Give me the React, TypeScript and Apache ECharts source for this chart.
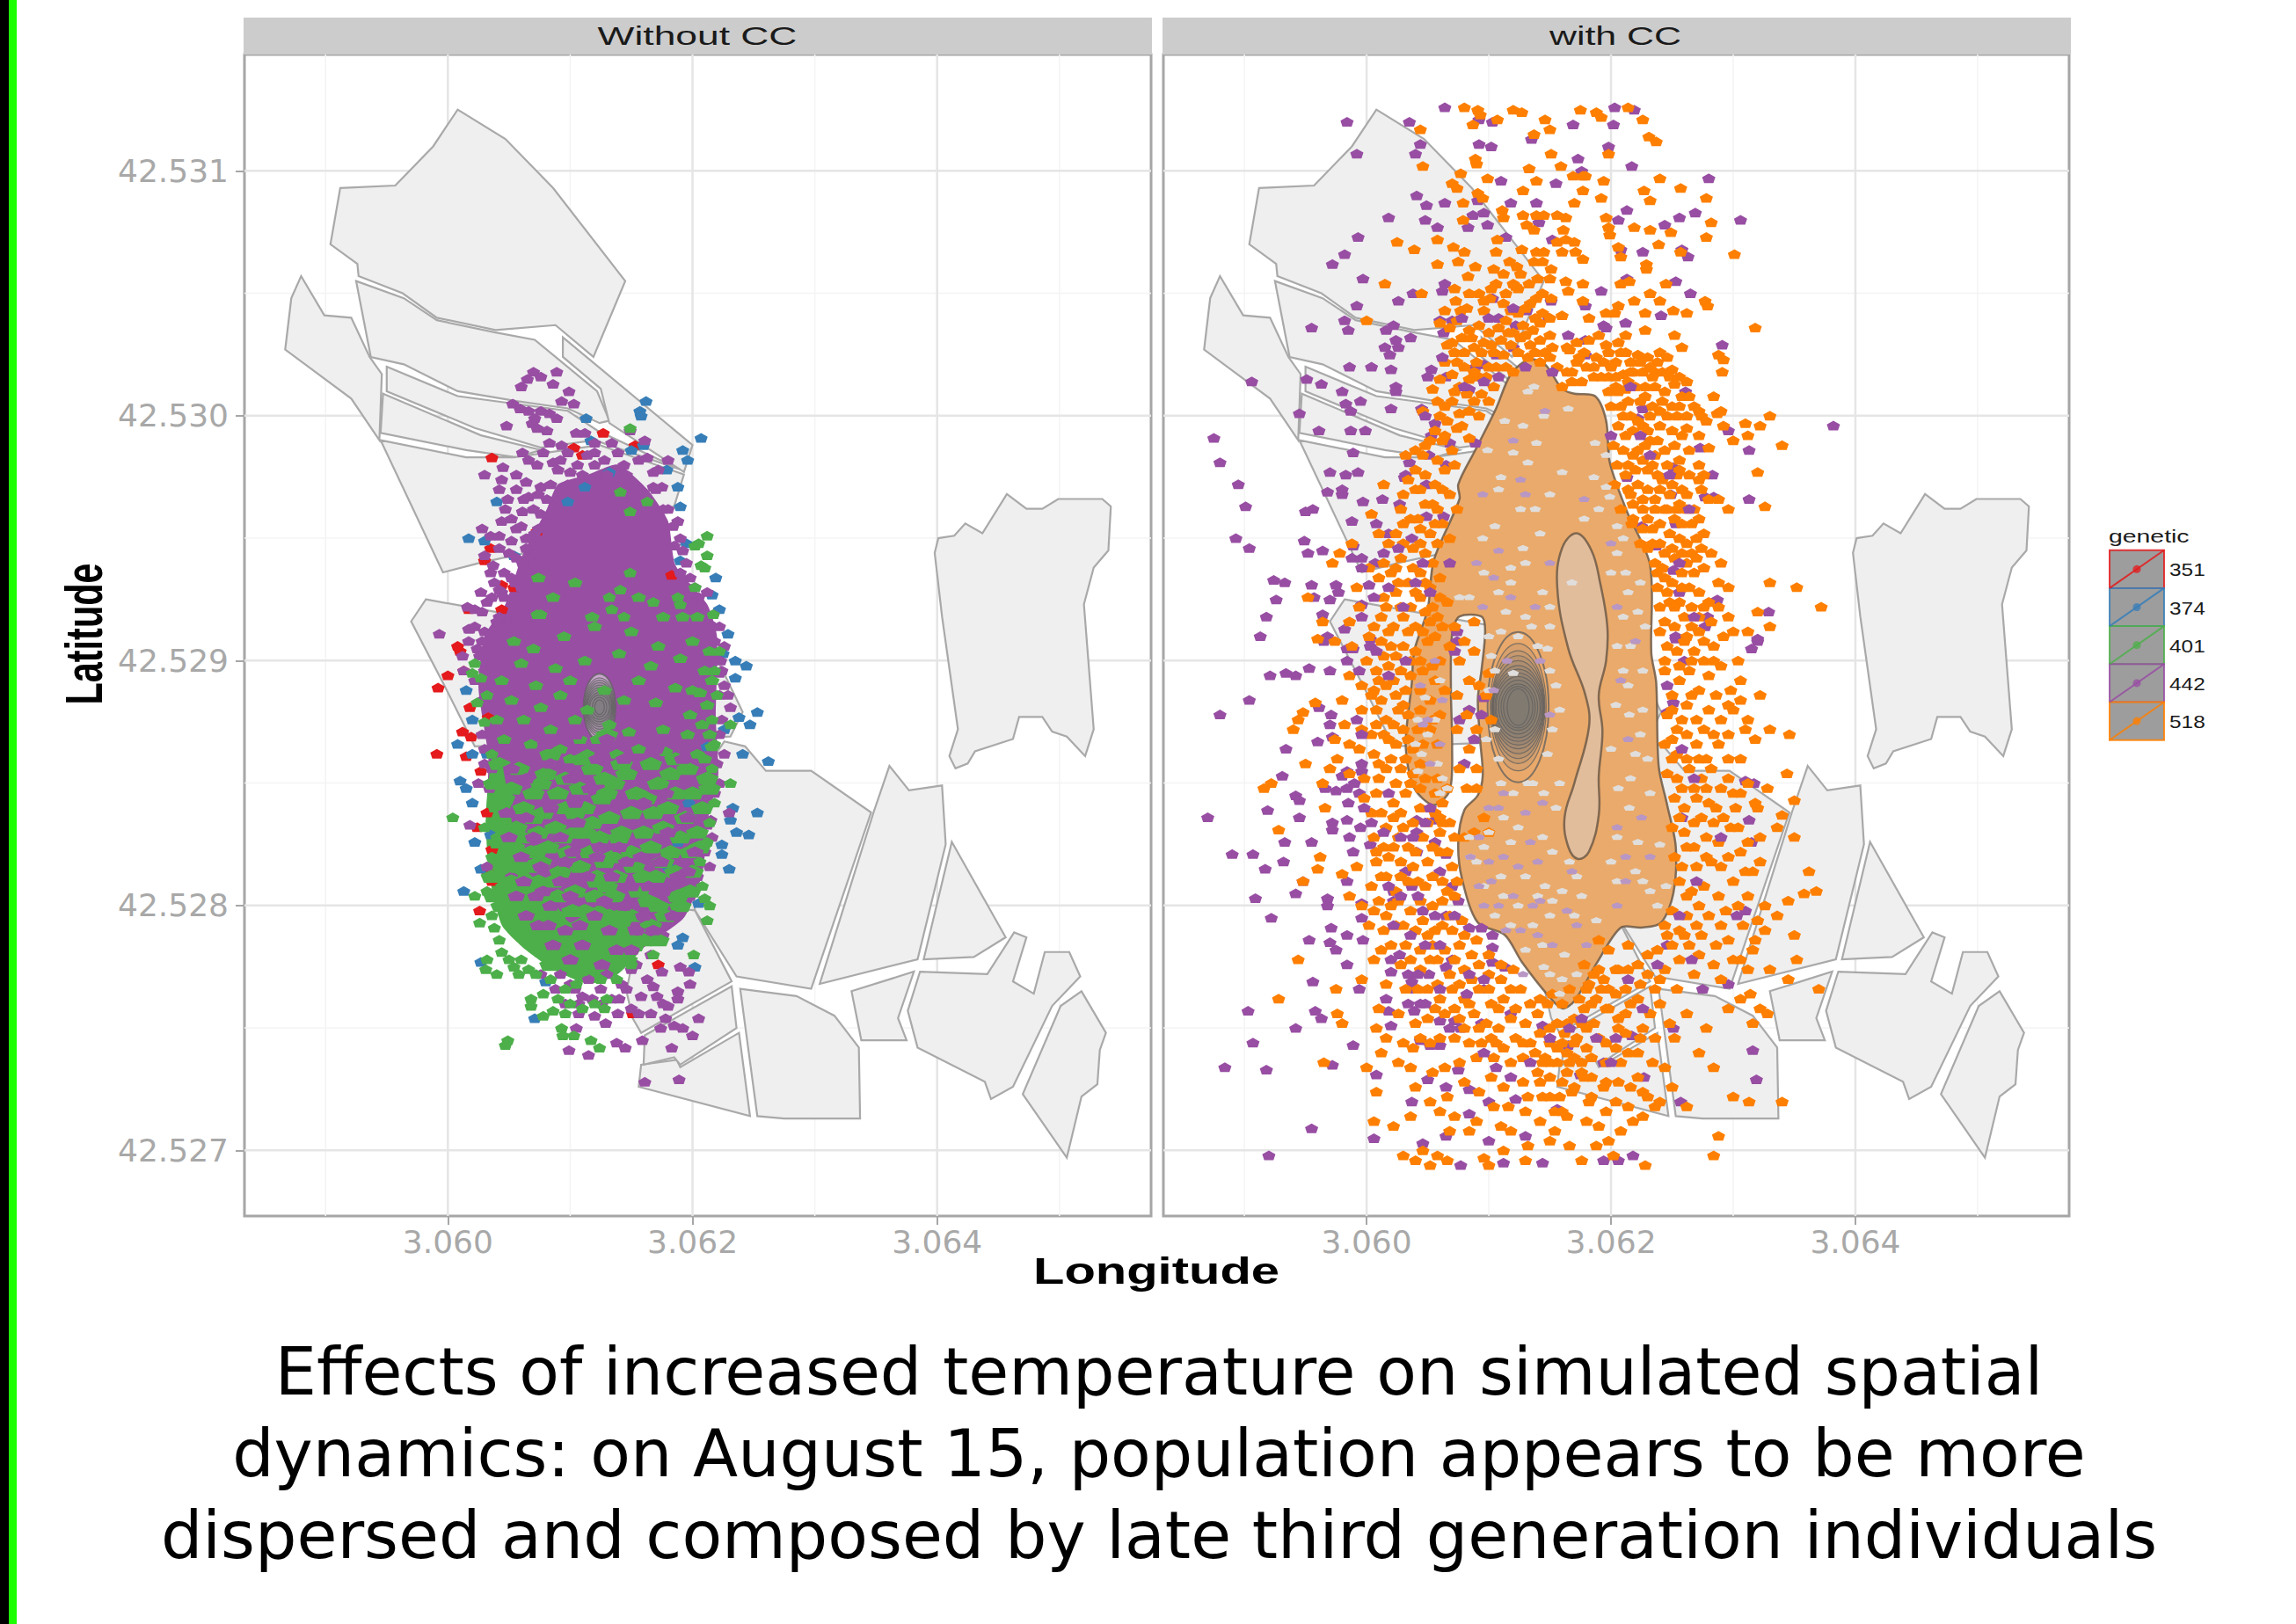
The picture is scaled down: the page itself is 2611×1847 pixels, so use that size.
import React, { useEffect, useRef } from "react";
import * as echarts from "echarts";

const LON0 = 3.06, LAT0 = 42.527, UNIT = 1e-5; // all lists below are [lon,lat] offsets in 1e-5 degrees, flat pairs
const LON_MIN = 3.058337, LON_MAX = 3.065749, LAT_MIN = 42.526732, LAT_MAX = 42.531475;
const lonTicks = [3.06, 3.062, 3.064];
const lonMinor = [3.059, 3.061, 3.063, 3.065];
const latTicks = [42.527, 42.528, 42.529, 42.53, 42.531];
const latMinor = [42.5275, 42.5285, 42.5295, 42.5305];
const panels = ["Without CC", "with CC"];
const geneticLabels = ["351", "374", "401", "442", "518"];
const geneticColors = ["#E41A1C", "#377EB8", "#4DAF4A", "#984EA3", "#FF7F00"];
const captionLines = [
  "Effects of increased temperature on simulated spatial",
  "dynamics: on August 15, population appears to be more",
  "dispersed and composed by late third generation individuals",
];

const fieldA = [8,425,47,413,86,393,145,355,119,324,88,337,39,335,-9,340,-37,350,-73,357,-74,362,-96,370,-88,393,-43,394,-12,410];
const fieldB = [-120,357,-101,341,-79,340,-64,324,-54,317,-56,290,-79,307,-133,327,-128,348];
const fieldC = [-75,355,-36,348,-9,339,39,334,71,331,93,322,122,310,132,298,124,297,98,303,56,306,8,310,-36,321,-63,324];
const fieldD = [94,332,200,288,193,277,132,297,125,311,94,324];
const fieldE = [-50,320,8,308,98,302,122,294,190,278,120,290,76,287,22,295,-50,310];
const fieldF = [-53,309,27,292,76,286,56,283,15,286,-55,293];
const fieldG = [-55,290,15,283,54,283,124,288,193,276,185,263,120,250,27,240,-4,236];
const fieldH = [-18,225,60,218,217,204,241,179,231,169,22,165,-2,189,-30,216];
const fieldI = [226,167,243,165,260,155,297,155,346,138,297,66,236,71,202,98,190,140];
const fieldJ = [361,157,377,147,404,149,407,125,384,78,304,68,348,138];
const fieldK = [412,126,456,87,430,79,389,78];
const fieldL = [330,65,381,73,368,54,375,45,338,45];
const fieldM = [386,73,441,72,463,89,473,87,462,69,479,64,488,81,508,81,517,71,494,59,462,26,444,21,439,28,384,42,376,57];
const fieldN = [518,65,538,48,533,41,531,27,518,22,506,-3,470,23,501,59];
const fieldO = [239,66,285,63,316,55,336,42,337,13,275,13,253,14];
const fieldP = [238,48,247,14,156,26,158,35,187,37,190,34];
const fieldQ = [232,67,236,50,190,35,185,38,160,35,161,47];
const fieldR = [202,98,232,69,158,48,151,54,146,65,160,100];
const fieldS = [457,268,473,262,486,262,499,266,535,266,542,263,540,245,528,238,520,223,528,172,521,161,506,169,494,171,486,177,467,177,462,168,431,163,425,158,415,156,410,161,417,172,404,218,398,244,401,250,414,251,423,256,437,252];
const fields = [fieldA,fieldB,fieldC,fieldD,fieldE,fieldF,fieldG,fieldH,fieldI,fieldJ,fieldK,fieldL,fieldM,fieldN,fieldO,fieldP,fieldQ,fieldR,fieldS];

// ---- Without CC
const massPurple = [115,276,139,280,163,270,180,257,186,239,212,223,220,210,219,177,221,153,213,136,208,113,193,95,163,84,139,74,115,70,90,76,66,85,46,93,38,111,32,136,33,161,25,189,30,210,47,223,61,243,81,262,90,272];
const massGreen = [36,160,44,158,52,135,58,118,81,106,100,93,124,100,149,90,160,84,139,72,115,68,86,74,61,83,44,92,34,112,31,136];
const redA = [36,283,127,293,153,288,103,287,110,284,73,253,35,246,30,241,44,231,54,230,17,221,44,221,183,235,8,206,10,204,0,194,-8,189,13,196,18,181,33,177,12,171,19,169,-9,162,15,161,27,155,32,138,24,132,36,123,32,114,36,110,26,98,172,76,151,56];
const blueA = [162,306,157,302,158,300,113,299,207,291,192,286,196,282,117,290,160,288,150,286,179,278,188,271,40,265,190,263,17,250,30,249,54,243,195,248,190,241,219,234,216,227,222,221,112,271,98,265,132,277,229,211,235,200,244,198,235,193,253,179,238,177,247,174,226,172,241,162,262,159,8,166,20,162,32,162,10,151,15,148,20,142,22,126,35,129,27,115,13,106,35,104,233,140,253,138,231,135,236,130,246,129,224,125,224,121,230,115,205,101,192,87,188,84,202,75,27,77,80,69,71,54,20,176,15,188,197,142,188,126,180,116,225,203,215,150,212,165];
const purpleA = [89,318,70,318,76,316,65,315,60,312,86,313,99,310,93,306,103,305,53,305,59,303,66,302,76,302,83,301,71,299,89,299,69,297,48,296,81,294,73,295,105,293,112,293,149,294,83,289,93,288,120,289,134,289,78,285,61,285,98,285,120,285,139,285,161,290,163,283,180,282,66,282,73,280,86,281,45,279,30,276,56,276,64,273,44,274,90,278,100,277,120,280,144,280,168,277,42,270,49,266,76,271,81,266,66,267,168,271,175,271,47,262,61,261,76,260,188,257,180,262,44,257,56,254,28,254,35,251,42,251,71,252,30,243,37,239,42,246,52,249,61,240,192,245,185,247,35,236,27,228,32,224,22,221,16,222,42,229,202,230,212,228,217,219,222,214,18,213,42,218,-7,211,17,213,17,208,12,202,13,196,217,202,222,195,229,186,231,181,25,150,18,133,32,116,212,133,230,138,214,116,175,73,190,75,197,73,198,68,163,70,168,67,171,63,158,63,188,65,188,62,180,59,205,54,178,54,185,51,192,50,174,50,200,47,159,45,183,42,145,42,138,44,115,39,99,41,161,28,189,29,139,56,120,55,129,52,107,56,107,60,105,50,134,62,110,63,100,68,125,66,150,74,115,70,52,112,30,212,24,205,34,196,28,170,30,158,34,148,223,200,226,190,222,170,220,158,218,146,215,135,44,228,55,232,70,240,64,250,36,206,205,226,198,234,195,240,
56,270,62,266,70,262,74,268,84,272,92,282,98,272,106,280,110,276,114,284,128,282,130,276,146,276,152,272,156,282,170,270,176,262,184,255,190,250,172,278,52,258,60,255,66,250,74,254,82,256,86,250,50,244,56,242,64,246,72,244,78,238,46,236,52,234,60,230,66,236,72,228,38,232,46,226,54,224,62,222,68,218,28,220,36,226,40,216,46,212,56,216,22,214,28,208,36,210,26,202,30,196,38,200,22,192,28,184,34,182,38,172,30,164,36,156,190,236,196,230,204,222,214,215,218,208,226,206,224,196,222,186,224,176,226,162,222,150,216,128,210,122,204,112,198,104,186,98,176,88,166,80,154,76,142,68,126,60,118,62,96,60,88,66,76,72,92,72,104,66,130,72,146,66,156,56,166,56,176,60,150,58,140,62];
const greenEdge = [49,45,47,43,93,50,94,47,103,47,117,45,124,42,86,57,78,55,78,64,68,62,68,59,40,72,31,74,32,78,44,81,54,75,168,80,201,80,26,93,38,91,4,136,22,104,212,94,210,103,231,150,231,174,212,251,205,248,202,247,212,243,207,239,210,238,202,230,217,219,149,295,22,199,20,195,27,193,32,186,24,183,30,175,141,269,163,265,149,261,149,236,141,229,132,226,188,226,76,219,190,223,144,218,134,221,168,224,73,219,84,70,96,66,105,68,90,62,100,60,110,58,125,70,130,62,138,70,150,76,60,78,66,74,72,72,36,120,40,128,30,132,38,140,34,150,36,162,120,60,128,58,96,56,58,72,50,78,42,86,36,96,32,106,214,100,208,108,206,118,212,126,214,134,218,142,216,156,218,166,216,176,220,186,218,196,222,204];
const greenMott = [54,208,70,205,95,210,120,214,150,212,172,206,200,208,214,204,60,199,88,197,112,200,140,203,166,198,190,201,210,196,44,192,72,190,100,192,128,188,156,192,186,189,206,187,216,192,52,184,76,181,92,186,114,180,144,184,170,183,198,178,212,182,40,176,62,176,84,172,104,176,108,168,132,174,148,171,176,172,196,170,214,170,46,168,68,166,92,164,100,160,122,168,114,162,138,162,156,164,178,163,204,162,216,165,118,218,156,226,86,226,104,232,74,234,192,218,176,218,204,218,200,188,208,174,210,160];
const greenLow = [42,158,58,156,80,154,96,152,118,156,128,152,146,154,166,158,182,154,196,156,212,152,38,150,52,148,70,146,90,146,108,148,126,144,136,150,154,146,172,150,186,146,200,146,214,148,44,142,62,140,78,138,96,140,112,140,118,134,132,136,150,138,168,138,180,140,194,136,208,140,40,134,56,132,74,130,88,132,104,130,124,128,142,130,160,130,176,132,190,128,204,130,42,126,54,124,68,122,82,124,98,122,116,122,134,120,150,122,166,124,182,122,198,122,206,124,44,118,58,116,76,118,92,114,108,116,122,112,138,112,152,116,170,112,186,114,200,114,48,108,60,104,74,110,90,104,104,106,120,104,136,104,156,106,172,100,188,104,198,106,58,98,70,96,88,96,102,98,118,92,132,96,150,96,166,92,178,96,190,100,72,88,92,84,104,86,126,84,144,86,160,86,172,86,84,76,100,76,112,80,130,78,146,78,72,122,52,110,66,116,86,110,112,98,130,108,142,94,152,84,108,74,120,82,44,100,50,104,56,96,62,92,78,98,36,112,38,104,130,146,104,138,122,110,140,96,176,118,160,112,140,128,112,130,128,118,164,102,94,128,60,128,70,136,46,144,162,144,76,150,186,160,142,158,110,160,130,170,84,162];
const purpleOver = [62,110,72,104,84,100,92,110,100,104,108,92,120,96,132,90,110,84,96,90,74,92,56,104,86,84,126,76,150,82,128,102,144,100,164,108,176,106,160,96,70,128,92,128,106,134,122,120,140,124,158,120,180,130,196,114,64,136,84,140,104,142,116,148,140,142,160,142,178,146,64,152,84,158,100,152,122,160,144,160,170,164,192,160,80,166,104,170,130,168,152,176,180,176,76,116,96,118,114,112,134,112,150,108,174,118,188,112,168,90,154,90,138,82,100,78,124,124,78,106,64,96,82,92,102,122,60,120,50,128,48,138,196,136,202,122,184,96,146,118,52,156];

// ---- with CC
const orangeB = [80,426,91,425,93,423,87,419,107,421,120,425,127,424,146,421,150,417,137,415,175,425,188,424,192,422,214,426,226,421,231,414,237,412,44,417,46,402,77,399,70,395,74,393,89,405,90,403,99,397,133,401,139,396,151,407,159,402,198,407,169,398,177,398,179,398,194,396,177,392,240,397,257,393,227,392,232,388,278,389,192,389,170,387,128,392,91,391,95,389,79,387,111,384,112,381,128,382,139,382,145,382,156,382,163,381,131,378,137,376,161,376,196,381,198,377,199,374,219,377,232,376,249,375,278,373,282,379,79,380,58,372,25,371,39,368,71,369,80,367,106,367,107,372,127,368,139,367,145,367,156,371,163,372,170,371,160,367,171,367,177,364,206,369,208,365,239,370,257,367,301,366,58,362,75,363,89,361,117,363,123,361,137,363,144,363,151,360,229,362,229,360,83,357,15,354,45,350,106,354,120,354,133,354,122,353,163,355,165,351,177,354,208,354,215,355,245,354,144,350,139,348,134,346,101,348,96,347,73,347,77,343,64,343,82,344,151,348,177,347,232,350,219,347,240,347,277,347,279,345,206,345,203,342,196,342,228,342,251,343,262,342,118,343,160,341,182,340,318,336,0,339,96,343,
60,338,68,336,74,339,84,335,92,337,100,334,108,336,114,339,120,334,128,337,136,335,142,338,110,331,118,329,126,332,134,329,142,331,150,333,96,330,88,328,104,326,112,325,124,326,132,324,146,326,152,328,72,326,66,329,74,322,80,320,64,322,90,322,100,320,114,320,120,318,92,316,84,315,70,317,76,312,82,309,94,309,104,312,60,315,54,311,58,306,70,306,76,301,84,302,92,300,66,298,74,295,84,291,60,300,52,290,62,290,70,286,46,302,166,327,172,330,182,331,190,333,196,329,206,330,212,333,228,335,252,333,258,328,156,320,164,318,172,322,180,320,188,324,194,322,198,326,204,322,212,326,216,322,222,325,230,324,238,322,246,324,160,312,168,314,176,314,186,316,198,316,204,316,210,317,218,318,226,318,234,316,242,318,250,319,256,316,262,314,288,325,292,323,291,318,198,310,206,310,212,311,220,312,228,312,236,312,244,310,252,313,258,308,284,308,287,301,200,304,208,304,214,306,224,306,234,304,242,306,250,304,246,300,232,300,254,300,262,300,268,304,290,302,310,297,330,300,322,296,274,300,
206,296,212,292,218,294,226,296,232,290,240,296,250,294,258,292,262,295,272,292,278,298,292,296,300,290,312,292,202,288,210,286,218,284,228,288,236,284,244,286,252,288,256,282,264,286,272,280,280,287,340,288,205,280,212,276,220,278,230,278,238,276,246,280,254,276,258,270,264,276,272,274,276,276,320,277,203,272,214,270,222,272,230,270,240,270,248,268,256,264,262,268,268,262,274,270,280,266,288,266,296,262,208,262,218,264,226,262,236,262,244,262,252,258,258,256,266,256,272,258,326,263,217,256,226,254,234,254,240,248,248,252,256,250,262,248,270,250,276,252,282,244,290,240,230,246,236,240,244,244,252,242,262,240,270,242,276,238,288,232,296,230,330,232,352,230,372,222,238,230,244,234,250,232,256,224,264,230,272,228,280,224,288,222,296,218,320,220,330,214,240,222,248,224,252,214,260,218,266,214,272,218,282,216,300,212,312,212,240,212,246,206,254,204,260,208,268,204,276,208,284,206,292,210,304,200,
64,292,58,282,48,276,40,278,32,284,46,284,56,272,64,278,72,280,40,270,30,268,48,264,58,262,68,268,74,262,14,272,28,262,36,258,44,254,52,252,62,256,4,260,10,252,24,252,38,246,48,244,58,248,68,250,28,242,-22,244,-28,240,-12,248,2,238,10,234,20,236,34,232,44,236,52,230,60,234,-8,230,14,226,24,228,36,222,44,226,54,222,66,224,-48,226,-36,216,-14,216,-6,222,12,218,22,214,30,218,40,214,52,216,62,214,-26,208,-40,209,-12,206,2,210,12,208,20,206,30,206,40,204,50,208,60,200,68,206,100,195,0,200,8,196,18,198,28,196,36,194,46,196,56,192,64,188,98,186,102,176,
-14,194,-4,190,6,188,16,190,24,186,-42,183,-52,179,-56,176,-60,172,-20,184,-4,180,8,180,16,176,26,180,34,178,42,172,-26,168,-18,174,-14,166,-4,172,4,170,14,170,24,166,30,172,38,164,52,172,58,166,-24,160,-6,164,6,162,20,160,32,160,44,158,-78,150,-50,158,-36,150,-30,156,-14,154,-2,152,10,152,24,150,36,150,-84,148,-34,140,-2,144,8,146,22,142,32,146,44,148,56,146,62,142,12,138,22,136,30,132,44,140,56,138,68,134,72,128,-72,131,6,128,14,124,26,128,34,124,46,128,60,130,-38,120,-40,115,-8,116,8,118,18,120,28,118,38,116,50,118,60,122,70,116,-52,110,-20,113,-14,104,4,108,12,112,24,106,34,110,48,108,62,110,72,104,-4,100,6,98,16,96,26,102,36,98,54,100,62,102,2,92,14,90,24,92,40,90,50,88,62,92,70,90,20,84,32,84,44,82,54,84,64,82,76,84,90,86,6,78,12,82,28,76,44,74,58,78,68,72,80,74,92,76,100,72,110,70,120,74,-56,78,-25,66,-4,70,16,68,32,66,50,66,60,62,70,66,80,62,92,66,102,60,112,62,126,66,134,60,
-72,62,-24,56,-20,52,10,58,26,56,40,52,50,54,64,56,76,54,88,56,98,52,108,50,118,54,130,52,140,56,148,60,156,52,8,50,16,46,30,44,38,42,52,44,72,46,84,44,94,44,102,46,112,42,122,46,134,44,142,48,150,44,162,48,170,54,178,58,186,52,198,58,206,54,216,60,226,50,-35,36,0,34,12,40,26,36,36,34,54,32,64,34,76,36,90,38,104,38,118,36,128,38,146,38,156,36,170,44,180,42,190,46,204,42,212,48,222,40,234,36,8,24,40,26,52,20,66,22,80,28,92,24,102,30,112,26,128,28,142,28,150,30,164,32,176,36,184,30,196,36,206,28,216,26,226,24,236,18,250,26,6,12,22,10,36,14,60,16,72,14,90,12,104,18,116,18,132,22,144,22,158,22,170,26,182,20,194,26,204,20,214,18,226,14,240,20,262,18,313,20,30,-2,46,0,58,-2,68,8,84,8,96,-3,110,10,118,8,130,-4,142,12,154,8,164,14,180,12,190,10,198,4,208,8,40,-4,52,-6,66,-4,100,-6,112,0,132,2,150,4,166,2,176,-4,188,2,202,-2,228,-6,284,-2,
244,196,250,186,256,192,264,196,272,188,280,194,290,198,298,188,306,192,246,178,254,172,262,182,270,176,280,180,290,176,300,180,312,176,322,186,244,166,254,162,262,170,270,166,278,160,288,166,296,160,306,160,318,168,330,172,346,170,246,154,254,152,264,156,274,152,282,156,290,148,300,146,312,150,320,140,344,154,350,143,252,144,260,140,270,144,280,142,292,136,302,140,318,142,328,148,340,137,250,132,260,130,268,134,278,128,288,126,298,132,312,126,322,128,336,132,350,128,252,120,262,124,270,116,282,118,290,116,306,122,316,114,322,118,362,114,345,102,358,105,256,110,266,106,276,108,288,104,300,110,312,104,326,100,336,96,250,98,262,96,270,92,280,96,290,92,308,92,318,86,326,90,350,88,352,78,370,66,368,106,238,82,250,84,260,88,272,80,284,76,296,86,306,78,316,82,330,74,345,70,190,86,198,82,206,74,214,84,222,76,230,72,236,66,244,74,254,66,268,72,290,70,306,62,314,64,322,58,316,52,328,56,178,76,186,72,194,70,204,64,212,66,222,62,232,56,240,60,248,52,262,56,278,50,296,58,180,66,188,62,196,58,206,50,
176,32,184,22,196,16,208,36,222,30,230,22,244,34,252,46,272,40,284,34,300,22,340,20,288,6,214,40,218,12,140,32,150,22,160,16,144,36,130,16,
72,214,80,208,88,216,76,200,88,204,84,192,92,190,74,186,82,178,90,172,74,172,84,164,90,156,76,156,82,148,90,148,60,136,96,136,88,130,80,128,100,130];
const orangeDense = [70,330,78,332,86,332,94,326,102,329,116,334,130,333,138,326,106,320,80,326,88,318,98,316,72,310,88,306,100,306,64,304,78,296,56,294,48,288,40,286,34,274,44,270,62,270,54,264,30,256,42,258,56,256,18,248,30,248,44,248,54,240,14,240,24,238,38,238,48,232,26,232,40,228,60,226,16,222,28,222,48,220,58,218,6,214,18,212,34,212,46,212,56,210,14,202,24,202,36,200,44,200,54,198,10,192,22,192,32,188,44,188,52,184,60,178,4,186,12,184,22,174,30,182,44,180,54,176,8,174,18,168,34,168,46,166,10,158,16,156,28,156,38,154,48,152,58,152,66,148,4,138,16,132,28,138,38,134,50,134,62,134,8,122,22,124,40,122,54,124,66,122,16,112,28,112,42,110,54,112,66,106,74,110,10,102,20,100,44,102,68,96,78,94,30,92,46,94,56,90,80,88,36,78,52,78,72,78,86,80,100,80,110,76,42,66,58,68,76,68,86,70,100,66,118,66,56,58,72,58,84,60,108,58,122,58,142,62,152,64,44,46,60,46,80,50,92,50,106,44,128,44,138,40,156,42,164,40,160,60,166,66,174,62,182,68,190,74,198,66,204,74,214,74,224,68,230,80,240,70,246,88,256,78,264,84,176,52,184,60,192,66,212,56,224,46,236,46,164,52,172,46,180,50,196,44,150,36,160,28,170,38,184,38,196,28,160,44,166,36,178,30,150,50,168,24,154,16,
210,300,216,300,222,298,230,294,238,290,222,286,214,280,226,282,234,280,242,274,250,272,256,278,216,268,226,266,236,266,246,262,254,262,262,262,218,258,230,258,240,256,250,246,258,244,266,244,274,246,224,248,234,248,242,238,258,236,268,236,238,236,246,228,258,230,266,222,276,222,244,216,252,222,262,210,272,212,244,200,256,198,266,200,276,200,284,200,250,180,258,176,266,186,276,172,286,186,296,182,306,184,250,168,262,160,272,160,284,170,296,170,310,172,250,160,258,148,268,148,278,148,286,140,296,152,306,146,256,136,274,136,284,134,304,132,258,116,268,124,278,120,296,120,310,114,262,104,272,100,294,98,304,100,320,94,244,92,256,90,274,88,286,84,300,78,312,74,
168,318,178,326,186,320,200,320,208,326,216,318,224,322,232,320,240,326,248,316,192,316,204,312,214,314,236,318,228,308,240,302,256,304,264,308,272,302,164,328,174,324,150,324,142,322,138,340,150,340,130,344,144,342,112,346,124,342,
104,360,112,358,126,358,140,356,150,356,92,350,102,352,114,350,124,352,84,350,72,352];
const purpleB = [64,426,-16,420,35,420,92,421,103,420,169,419,203,426,219,425,202,419,44,411,40,407,-8,407,92,411,102,410,135,413,198,410,173,405,176,400,217,402,280,397,110,396,155,395,41,390,49,386,64,387,91,388,118,387,139,387,213,384,269,383,256,381,306,380,18,381,48,380,87,382,96,383,141,379,206,380,244,378,58,377,83,377,99,378,-7,373,-18,366,-28,362,114,373,152,372,258,368,208,368,263,365,226,367,-3,356,64,354,62,351,38,350,253,355,213,356,192,351,265,350,26,347,-8,345,151,347,103,348,179,345,131,343,241,341,-18,339,-45,336,-15,335,22,337,16,335,63,334,60,339,70,339,149,340,108,340,122,337,194,337,36,332,24,331,26,328,15,328,19,325,165,333,179,331,179,325,291,329,120,328,106,325,-14,320,4,320,20,319,53,319,65,316,89,320,96,321,84,311,-94,314,-49,315,-37,313,24,312,24,310,-20,310,-5,306,-17,305,45,303,-13,302,20,303,-55,301,261,310,226,303,222,299,296,294,382,296,273,287,313,286,-39,294,-13,294,-1,294,-125,291,-120,281,-105,272,-99,263,-11,285,56,297,53,292,68,289,89,289,-30,277,-17,276,-7,277,35,281,51,284,65,280,32,276,31,275,49,272,-20,270,-32,269,-20,268,-3,265,13,266,27,264,-44,262,-50,261,49,259,63,259,-12,257,8,256,18,252,-107,250,-51,249,-96,246,-48,244,-36,245,-11,247,-12,242,-4,242,7,240,37,250,-76,233,-67,232,-45,231,-25,231,-23,228,2,231,-74,225,-43,226,-30,225,-4,223,-82,218,-36,219,-4,218,-18,213,-87,210,-32,210,3,209,-11,205,3,206,237,247,251,237,256,228,287,225,329,220,279,218,253,210,320,208,277,214,284,267,283,276,313,266,251,279,213,275,249,268,277,267,253,256,225,255,
-35,208,320,209,315,205,-16,205,-16,200,-47,197,-30,196,-66,195,-58,194,-79,194,-96,184,-120,178,-39,181,-29,178,-30,174,-28,169,-66,164,-40,167,-4,158,-16,155,-4,155,-69,153,-20,153,-34,148,-25,147,-16,148,-6,146,18,146,-58,145,-55,143,-15,142,-81,139,-55,136,-130,136,-28,134,-16,135,-28,131,-5,132,41,135,56,135,41,130,-67,126,-45,126,3,125,56,126,41,122,65,121,-110,121,-93,121,-68,118,-11,122,-83,115,-52,110,32,114,60,114,37,108,70,108,22,106,-58,105,-91,103,-32,103,-16,110,22,102,75,102,-32,100,-4,101,46,98,65,96,-78,95,-4,95,-29,91,84,91,94,91,103,88,-16,88,-47,86,-30,85,-3,86,103,83,-25,82,27,80,20,78,70,78,65,75,103,77,113,75,-16,76,34,72,37,69,20,73,-44,69,51,72,37,66,-6,66,44,60,-97,57,-42,57,-37,54,18,57,39,57,96,66,72,53,20,51,94,52,77,50,60,53,-58,50,118,56,144,51,44,45,-93,44,-11,43,52,43,60,43,165,43,316,41,-116,34,-82,33,-28,35,75,33,106,34,194,36,175,31,8,31,50,29,118,30,227,30,319,29,65,26,84,25,100,20,122,21,37,20,257,20,84,15,156,17,-45,9,6,5,65,6,100,4,130,6,46,3,-80,-2,77,-6,112,-5,144,-5,194,-4,206,-4,218,-2,253,209,260,200,251,183,246,179,313,135,315,126,310,151,317,150,258,136,303,96,310,98,246,84,296,68,275,66,251,50,217,47,74,212,74,208,72,204,84,180,88,168,76,176,80,158,96,185,94,178];
const purpleTop = [-8,176,-4,170,-10,150,-2,140,-14,128,4,134,14,130,28,128,52,140,48,134,38,128,18,108,28,104,42,104,56,96,72,96,22,92,36,88,48,84,60,84,84,72,96,70,42,72,60,66,82,64,16,62,34,60,48,60,68,50,96,40,-6,196,8,204,18,194,32,200,6,226,18,230,30,222,40,232,52,228,-4,238,14,244,26,246,46,240,68,240,48,300,62,324,50,316,80,312,96,314,108,316,78,340,100,340,120,344,130,320,152,318,196,336,212,338,216,312,224,292,200,292,232,284,248,276,264,262,256,240,268,218,246,190,258,164,268,152,290,128,270,110,256,96,266,78,238,76,214,70,226,58,204,46,200,36,176,54,188,46,166,50,150,46,134,36];
const contourOuter = [76,266,55,241,50,221,39,204,37,191,32,165,39,148,55,141,68,147,70,165,69,188,70,211,76,218,94,218,97,212,94,196,91,184,93,167,95,153,91,145,80,139,75,126,78,111,91,93,113,88,127,77,149,63,160,58,170,61,189,77,208,91,225,91,241,93,251,105,253,124,246,141,239,157,237,191,233,203,232,239,213,261,199,281,196,298,187,308,170,309,160,311,146,321,133,323,118,317,106,303,89,286,75,272];
const contourLobe = [172,252,184,245,191,232,197,214,196,200,190,186,193,171,190,153,190,137,182,122,173,119,165,124,162,136,170,150,182,173,179,186,165,205,156,230,160,246];
const specksGray = [137,312,132,310,165,303,113,298,139,289,187,289,99,286,132,281,110,275,160,277,196,271,199,267,126,262,95,250,105,255,178,258,190,262,210,250,205,244,128,246,142,252,118,238,96,236,108,228,144,228,168,232,200,236,214,228,224,232,84,226,76,226,130,218,150,214,210,218,216,206,110,212,124,210,140,206,205,206,210,196,226,196,228,214,102,202,105,196,150,196,155,190,158,180,152,172,204,182,215,178,226,180,100,188,105,172,108,160,148,162,200,164,220,162,230,160,48,185,42,176,45,162,50,170,60,192,58,158,62,152,42,155,60,146,120,146,136,150,145,146,155,140,206,148,215,140,232,146,100,130,112,136,124,132,144,128,152,122,205,128,222,126,240,125,245,108,90,118,96,108,110,112,130,112,146,108,160,106,176,104,205,110,220,114,232,106,238,100,105,96,118,92,136,92,150,96,170,96,188,94,130,82,144,84,162,80,172,72,150,72,158,64,84,128,112,104,
145,300,120,285,108,270,150,268,186,275,205,255,130,240,114,220,135,214,150,222,100,210,212,236,222,220,120,195,132,150,110,150,216,152,224,170,96,124,118,126,140,104,166,118,226,110,200,118,152,102,124,100,172,112,145,75,160,70,56,176,66,148,40,166,85,120,214,190,148,205,98,168,158,150,118,232,196,284,128,296,138,262];
const specksPurple = [146,302,120,290,95,268,130,268,178,266,108,245,150,240,200,248,118,226,95,222,138,222,205,222,220,208,115,200,142,200,208,192,104,188,150,178,214,168,56,200,44,190,50,176,52,158,60,166,100,140,112,146,130,138,144,142,205,132,225,136,85,120,100,118,112,120,124,116,140,118,168,114,212,120,96,100,120,104,142,102,172,92,205,100,126,90,152,84,180,84,92,128,102,110,
126,274,104,234,90,240,46,174,62,184,108,140,134,126,92,108,108,100,136,100,164,98,114,90,140,88,128,72,212,110,232,120];
const ringCenter = [124, 181];
const ringsP1 = [[13,13.6],[12.5,12],[12,11],[11.5,10],[11,9],[10.5,8],[10,7],[9,6],[8,5],[6,4],[4,3]];
const ringsP2 = [[25,30.7],[23,26],[22,23],[21.5,21],[21,19],[20.5,17],[20,15.5],[19,14],[18,12.5],[16,11],[14,9.5],[12,8.5],[9,7.5]];

const pairs = (f: number[]) => { const out: number[][] = []; for (let i = 0; i + 1 < f.length; i += 2) out.push([LON0 + f[i] * UNIT, LAT0 + f[i + 1] * UNIT]); return out; };
const DOT = "path://M5 0L10 3.5L8.5 9H1.5L0 3.5Z";
const DOT_SIZE = [15, 11];

function polygons(list: number[][], idx: number, style: any, smooth = 0) {
  return {
    type: "custom", xAxisIndex: idx, yAxisIndex: idx, silent: true, clip: true, animation: false,
    data: list.map((p, i) => [LON0 + p[0] * UNIT, LAT0 + p[1] * UNIT, i]),
    renderItem: (_: any, api: any) => {
      const pts = pairs(list[api.value(2)]).map((q) => api.coord(q));
      return { type: "polygon", shape: { points: pts, smooth }, style };
    },
  };
}
function rings(list: number[][], idx: number, firstFill: string) {
  return {
    type: "custom", xAxisIndex: idx, yAxisIndex: idx, silent: true, clip: true,
    data: list.map((r, i) => [LON0 + ringCenter[0] * UNIT, LAT0 + ringCenter[1] * UNIT, r[0] * UNIT, r[1] * UNIT, i]),
    renderItem: (_: any, api: any) => {
      const c = api.coord([api.value(0), api.value(1)]);
      const s = api.size([api.value(2), api.value(3)]);
      const i = api.value(4);
      return { type: "ellipse", shape: { cx: c[0], cy: c[1], rx: s[0], ry: s[1] }, style: { fill: i === 0 ? firstFill : "rgba(120,120,120,0.16)", stroke: "rgba(95,95,95,0.75)", lineWidth: i === 0 ? 2 : 1.2 } };
    },
  };
}
function dots(f: number[], idx: number, color: string, size: number[] = DOT_SIZE) {
  return { type: "scatter", xAxisIndex: idx, yAxisIndex: idx, symbol: DOT, symbolSize: size, silent: true, clip: true, itemStyle: { color, opacity: 1 }, data: pairs(f) };
}
function gridlines(idx: number) {
  const rows = [
    ...lonMinor.map((v) => [v, LAT_MIN, v, LAT_MAX, 0]),
    ...latMinor.map((v) => [LON_MIN, v, LON_MAX, v, 0]),
    ...lonTicks.map((v) => [v, LAT_MIN, v, LAT_MAX, 1]),
    ...latTicks.map((v) => [LON_MIN, v, LON_MAX, v, 1]),
  ];
  return {
    type: "custom", xAxisIndex: idx, yAxisIndex: idx, silent: true, clip: true, data: rows,
    renderItem: (_: any, api: any) => {
      const a = api.coord([api.value(0), api.value(1)]);
      const b = api.coord([api.value(2), api.value(3)]);
      const major = api.value(4) === 1;
      return { type: "line", shape: { x1: a[0], y1: a[1], x2: b[0], y2: b[1] }, style: { stroke: major ? "#E5E5E5" : "#F4F4F4", lineWidth: major ? 2.5 : 1.5 } };
    },
  };
}

const fieldStyle = { fill: "#EFEFEF", stroke: "#A9A9A9", lineWidth: 2.2 };
const AXCOL = "#A6A6A6";
const LABEL = "#A8A8A8";
const xAxis = (gridIndex: number) => ({
  type: "value", gridIndex, min: LON_MIN, max: LON_MAX, splitLine: { show: false },
  axisLine: { show: false },
  axisTick: { length: 10, customValues: lonTicks, lineStyle: { color: AXCOL, width: 2 } },
  axisLabel: { customValues: lonTicks, margin: 11, color: LABEL, fontFamily: "DejaVu Sans", fontSize: 36, formatter: (v: number) => v.toFixed(3), hideOverlap: false },
});
const yAxis = (gridIndex: number, show: boolean) => ({
  type: "value", gridIndex, min: LAT_MIN, max: LAT_MAX, splitLine: { show: false },
  axisLine: { show: false },
  axisTick: { show, length: 10, customValues: latTicks, lineStyle: { color: AXCOL, width: 2 } },
  axisLabel: { show, customValues: latTicks, margin: 18, color: LABEL, fontFamily: "DejaVu Sans", fontSize: 36, formatter: (v: number) => v.toFixed(3) },
});
const txt = (text: string, x: number, y: number, font: string, fill: string, scaleX = 1, rotation = 0, align = "center") => ({
  type: "text", x, y, scaleX, rotation, z: 50, silent: true,
  style: { text, font, fill, textAlign: align, textVerticalAlign: "middle" },
});

const graphics = [
  { type: "rect", shape: { x: 0, y: 0, width: 10, height: 1847 }, style: { fill: "#000000" } },
  { type: "rect", shape: { x: 10, y: 0, width: 9, height: 1847 }, style: { fill: "#1CFF00" } },
  { type: "rect", shape: { x: 277, y: 20, width: 1033, height: 42 }, style: { fill: "#CCCCCC" } },
  { type: "rect", shape: { x: 1322, y: 20, width: 1033, height: 42 }, style: { fill: "#CCCCCC" } },
  txt(panels[0], 793, 41, "29px 'Liberation Sans'", "#1A1A1A", 1.53),
  txt(panels[1], 1837, 41, "29px 'Liberation Sans'", "#1A1A1A", 1.48),
  txt("Longitude", 1315, 1445, "bold 42px 'Liberation Sans'", "#000000", 1.38),
  txt("Latitude", 95, 721, "bold 60px 'Liberation Sans'", "#000000", 0.69, Math.PI / 2),
  txt("genetic", 2398, 610, "20px 'Liberation Sans'", "#1A1A1A", 1.42, 0, "left"),
  ...geneticLabels.flatMap((g, i) => {
    const y = 625.7 + i * 43.2;
    return [
      { type: "rect", z: 40, shape: { x: 2399, y, width: 62, height: 43.2 }, style: { fill: "#8C8C8C", stroke: geneticColors[i], opacity: 0.85, lineWidth: 2 } },
      { type: "line", z: 41, shape: { x1: 2399, y1: y + 43.2, x2: 2461, y2: y }, style: { stroke: geneticColors[i], opacity: 0.85, lineWidth: 2 } },
      { type: "circle", z: 42, shape: { cx: 2430, cy: y + 21.6, r: 4.5 }, style: { fill: geneticColors[i], opacity: 0.75 } },
      txt(g, 2467, y + 23, "20px 'Liberation Sans'", "#1A1A1A", 1.22, 0, "left"),
    ];
  }),
  ...captionLines.map((line, i) => txt(line, 1318, 1560 + i * 93.3, "74.7px 'DejaVu Sans'", "#000000")),
];

export default function App() {
  const ref = useRef<HTMLDivElement>(null);
  useEffect(() => {
    const chart = echarts.init(ref.current!, null, { renderer: "svg" });
    chart.setOption({
      animation: false,
      backgroundColor: "#FFFFFF",
      grid: [
        { left: 278, top: 62, width: 1031, height: 1321, show: true, backgroundColor: "#FFFFFF", borderColor: AXCOL, borderWidth: 3, containLabel: false },
        { left: 1323, top: 62, width: 1030, height: 1321, show: true, backgroundColor: "#FFFFFF", borderColor: AXCOL, borderWidth: 3, containLabel: false },
      ],
      xAxis: [xAxis(0), xAxis(1)],
      yAxis: [yAxis(0, true), yAxis(1, false)],
      graphic: graphics,
      series: [
        gridlines(0),
        gridlines(1),
        polygons(fields, 0, fieldStyle),
        polygons(fields, 1, fieldStyle),
        dots(redA, 0, geneticColors[0]),
        dots(blueA, 0, geneticColors[1]),
        dots(purpleA, 0, geneticColors[3]),
        polygons([massPurple], 0, { fill: geneticColors[3] }, 0.2),
        polygons([massGreen], 0, { fill: geneticColors[2] }, 0.2),
        dots(greenEdge, 0, geneticColors[2]),
        dots(greenMott, 0, geneticColors[2], [17, 11]),
        dots(greenLow, 0, geneticColors[2], [26, 15]),
        dots(purpleOver, 0, geneticColors[3], [20, 12]),
        rings(ringsP1, 0, "rgba(225,205,225,0.7)"),
        dots(purpleB, 1, geneticColors[3]),
        dots(orangeB, 1, geneticColors[4]),
        dots(orangeDense, 1, geneticColors[4]),
        dots(purpleTop, 1, geneticColors[3]),
        polygons([contourOuter], 1, { fill: "#EAAA6B", stroke: "rgba(110,90,70,0.85)", lineWidth: 2.5 }, 0.3),
        dots(specksGray, 1, "#E0DEDC", [13, 7]),
        dots(specksPurple, 1, "#B897C4", [13, 7]),
        polygons([contourLobe], 1, { fill: "#E2BD9C", stroke: "rgba(110,90,70,0.85)", lineWidth: 2.5 }, 0.4),
        rings(ringsP2, 1, "rgba(234,170,107,0.3)"),
      ],
    });
    return () => chart.dispose();
  }, []);
  return <div ref={ref} style={{ position: "absolute", left: 0, top: 0, width: 2611, height: 1847 }} />;
}
